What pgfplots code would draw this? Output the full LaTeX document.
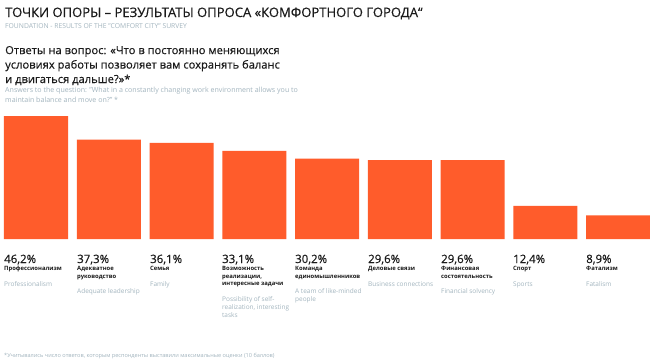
\documentclass[border=0pt]{standalone}
\usepackage{pgfplots}
\pgfplotsset{compat=1.18}
\usepackage{fontspec}
\setmainfont{Open Sans}
\newfontfamily\med[FakeBold=0.35]{Open Sans}
\definecolor{barorange}{HTML}{FF5C2B}
\definecolor{engray}{HTML}{A3B5BF}
\definecolor{txt}{HTML}{1A1A1A}
\begin{document}
\begin{tikzpicture}[x=1bp,y=1bp]
\fill[white] (0,0) rectangle (650,360);
\begin{axis}[at={(0bp,121bp)},anchor=south west,
  width=650bp,height=123bp,scale only axis,
  xmin=0,xmax=650,ymin=0,ymax=46.2,
  axis lines=none,ticks=none,clip=false,
  enlargelimits=false]
\addplot[ybar,bar width=64bp,fill=barorange,draw=none] coordinates {
(36,46.2) (108.75,37.3) (181.5,36.1) (254.25,33.1) (327,30.2) (399.75,29.6) (472.5,29.6) (545.25,12.4) (618,8.9)};
\end{axis}
% headings
\node[anchor=base west,inner sep=0,txt,font=\med\fontsize{13.1}{14}\selectfont] at (5,360-17) {ТОЧКИ ОПОРЫ – РЕЗУЛЬТАТЫ ОПРОСА «КОМФОРТНОГО ГОРОДА“};
\node[anchor=base west,inner sep=0,engray,font=\fontsize{6.8}{7}\selectfont] at (5,360-28) {FOUNDATION - RESULTS OF THE "COMFORT CITY" SURVEY};
\node[anchor=base west,inner sep=0,txt,font=\med\fontsize{11.2}{14.5}\selectfont,align=left] at (5,360-83) {Ответы на вопрос: «Что в постоянно меняющихся\\условиях работы позволяет вам сохранять баланс\\и двигаться дальше?»*};
\node[anchor=base west,inner sep=0,engray,font=\fontsize{7.1}{10}\selectfont,align=left] at (5,360-102) {Answers to the question: "What in a constantly changing work environment allows you to\\maintain balance and move on?" *};
% labels
\foreach \x/\p/\ru/\en/\n/\m in {
 4/{46,2\%}/{Профессионализм}/{Professionalism}/1/1,
 77/{37,3\%}/{Адекватное\\руководство}/{Adequate leadership}/2/1,
 150/{36,1\%}/{Семья}/{Family}/1/1,
 222/{33,1\%}/{Возможность\\реализации,\\интересные задачи}/{Possibility of self-\\realization, interesting\\tasks}/3/3,
 295/{30,2\%}/{Команда\\единомышленников}/{A team of like-minded\\people}/2/2,
 368/{29,6\%}/{Деловые связи}/{Business connections}/1/1,
 441/{29,6\%}/{Финансовая\\состоятельность}/{Financial solvency}/2/1,
 513/{12,4\%}/{Спорт}/{Sports}/1/1,
 586/{8,9\%}/{Фатализм}/{Fatalism}/1/1}{
 \node[anchor=base west,inner sep=0,txt,font=\med\fontsize{11.5}{12}\selectfont] at (\x,360-263) {\p};
 \node[anchor=base west,inner sep=0,txt,font=\bfseries\fontsize{5.9}{7.5}\selectfont,align=left] at (\x,360-270.5-7.5*\n+7.5) {\ru};
 \node[anchor=base west,inner sep=0,engray,font=\fontsize{6.5}{8}\selectfont,align=left] at (\x,360-270.5-7.5*\n+7.5-15.5-8*\m+8) {\en};
}
\node[anchor=base west,inner sep=0,engray,font=\fontsize{5.6}{6}\selectfont] at (4,360-357) {*Учитывались число ответов, которым респонденты выставили максимальные оценки (10 баллов)};
\end{tikzpicture}
\end{document}
